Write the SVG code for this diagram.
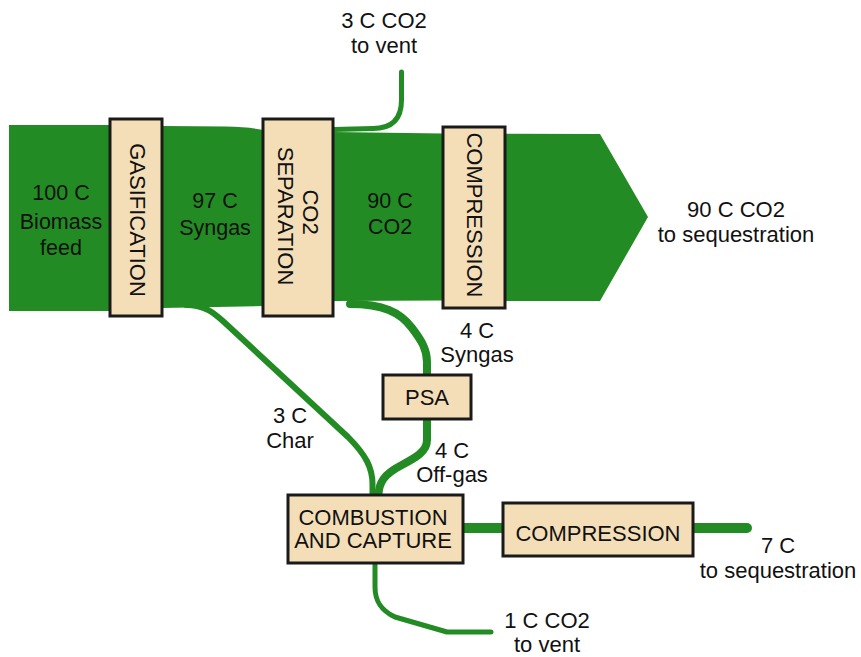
<svg xmlns="http://www.w3.org/2000/svg" width="861" height="657" viewBox="0 0 861 657">
<style>
text{font-family:"Liberation Sans",Arial,sans-serif;font-size:22px;fill:#111;text-anchor:middle}
.box{fill:#F4DEB8;stroke:#1a1a1a;stroke-width:3}
.flow{fill:none;stroke:#238B23;stroke-linecap:round;stroke-linejoin:round}
.band{fill:#238B23}
.in{font-size:21.5px}
.vt{font-size:22px}
</style>
<rect width="861" height="657" fill="#fff"/>
<g id="connectors">
<path class="band" d="M9 125 L110 125 L162 126 L225 126.5 Q250 127 263 130 L333 132 L443 133.5 L600 134 L648 217 L600 301 L505 301 L443 300.5 L333 301 L263 306 L162 308 L110 311 L9 311 Z"/>
<path class="flow" stroke-width="5" d="M401.5 72 L401.5 100 Q401.5 128.5 373 128.5 L334 129.5"/>
<path class="flow" stroke-width="6" d="M186 305 C205 305 214 313 224 322 L348 437 C366 455 372.5 468 372.5 484 L372.5 496"/>
<path class="flow" stroke-width="8" d="M350 304 C383 304 400 312 412 328 C422 341 427 350 427 362 L427 376"/>
<path class="flow" stroke-width="8" d="M427 418 L427 440 C427 452 415 458 400 466 C385 474 378.5 482 378.5 496"/>
<path class="flow" stroke-width="10" d="M463 528 L503 528"/>
<path class="flow" stroke-width="10" d="M693 528 L747 528"/>
<path class="flow" stroke-width="5" d="M375 563 L375 587 C375 600 380 610 395 617 L447 632 L491 632"/>
</g>
<g id="label-biomass"><text class="in" x="61" y="200">100 C</text><text class="in" x="61" y="229">Biomass</text><text class="in" x="61" y="255">feed</text></g>
<g id="label-syngas97"><text class="in" x="215" y="208">97 C</text><text class="in" x="215" y="235">Syngas</text></g>
<g id="label-co290"><text class="in" x="390" y="208">90 C</text><text class="in" x="390" y="234">CO2</text></g>
<g id="gasification"><rect class="box" x="110" y="119" width="52" height="197"/><text class="vt" transform="translate(130,220) rotate(90)">GASIFICATION</text></g>
<g id="co2-separation"><rect class="box" x="263" y="119" width="70" height="197"/><text class="vt" transform="translate(303,212) rotate(90)">CO2</text><text class="vt" transform="translate(278,216) rotate(90)">SEPARATION</text></g>
<g id="compression-upper"><rect class="box" x="443" y="127" width="62" height="181"/><text class="vt" transform="translate(467,215) rotate(90)">COMPRESSION</text></g>
<g id="label-vent3"><text x="384" y="28">3 C CO2</text><text x="384" y="53">to vent</text></g>
<g id="label-seq90"><text x="736" y="217">90 C CO2</text><text x="736" y="242">to sequestration</text></g>
<g id="label-syngas4"><text x="477" y="338">4 C</text><text x="477" y="362">Syngas</text></g>
<g id="psa"><rect class="box" x="383" y="375" width="88" height="44"/><text x="427" y="405">PSA</text></g>
<g id="label-char"><text x="290" y="423">3 C</text><text x="290" y="448">Char</text></g>
<g id="label-offgas"><text x="452" y="458">4 C</text><text x="452" y="482">Off-gas</text></g>
<g id="combustion"><rect class="box" x="288" y="495" width="175" height="68"/><text x="373" y="525">COMBUSTION</text><text x="373" y="548">AND CAPTURE</text></g>
<g id="compression-lower"><rect class="box" x="503" y="503" width="190" height="53"/><text x="598" y="541">COMPRESSION</text></g>
<g id="label-seq7"><text x="778" y="553">7 C</text><text x="778" y="578">to sequestration</text></g>
<g id="label-vent1"><text x="547" y="628">1 C CO2</text><text x="547" y="652">to vent</text></g>
</svg>
